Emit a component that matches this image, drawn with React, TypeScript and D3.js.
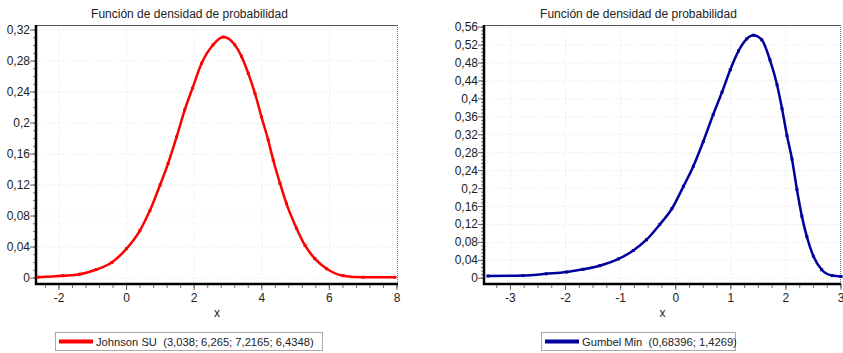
import * as d3 from 'd3';
import { useEffect, useRef } from 'react';

// Johnson SU curve
const johnsonX = [-2.62, -1.88, -1.38, -0.89, -0.44, 0, 0.39, 0.69, 0.99, 1.23, 1.48, 1.72, 1.95, 2.22, 2.56, 2.86, 3.2, 3.4, 3.6, 3.8, 3.99, 4.19, 4.34, 4.54, 4.73, 5.03, 5.28, 5.57, 5.92, 6.41, 7.0, 7.94];
const johnsonY = [0.001, 0.003, 0.005, 0.011, 0.02, 0.038, 0.061, 0.087, 0.12, 0.148, 0.182, 0.217, 0.245, 0.277, 0.301, 0.311, 0.301, 0.286, 0.264, 0.238, 0.208, 0.178, 0.152, 0.122, 0.096, 0.064, 0.042, 0.025, 0.012, 0.003, 0.001, 0.001];

// Gumbel Min curve
const gumbelX = [-3.41, -2.77, -2.35, -1.98, -1.68, -1.38, -1.04, -0.77, -0.53, -0.29, -0.07, 0.14, 0.32, 0.5, 0.68, 0.84, 0.99, 1.14, 1.29, 1.41, 1.56, 1.71, 1.84, 1.93, 2.02, 2.11, 2.2, 2.29, 2.38, 2.5, 2.65, 2.84, 3.0];
const gumbelY = [0.005, 0.006, 0.01, 0.014, 0.02, 0.028, 0.043, 0.062, 0.086, 0.12, 0.155, 0.205, 0.25, 0.305, 0.365, 0.415, 0.465, 0.507, 0.534, 0.542, 0.532, 0.487, 0.431, 0.378, 0.318, 0.266, 0.198, 0.138, 0.093, 0.049, 0.019, 0.006, 0.004];

const leftXTicks = [-2, 0, 2, 4, 6, 8];
const leftYTicks = [0, 0.04, 0.08, 0.12, 0.16, 0.2, 0.24, 0.28, 0.32];
const rightXTicks = [-3, -2, -1, 0, 1, 2, 3];
const rightYTicks = [0, 0.04, 0.08, 0.12, 0.16, 0.2, 0.24, 0.28, 0.32, 0.36, 0.4, 0.44, 0.48, 0.52, 0.56];

const title = 'Función de densidad de probabilidad';
const leftLegend = 'Johnson SU  (3,038; 6,265; 7,2165; 6,4348)';
const rightLegend = 'Gumbel Min  (0,68396; 1,4269)';

const W = 843;
const H = 353;
const FONT = '"Liberation Sans", Arial, sans-serif';

const fmt = (v) => String(+v.toFixed(3)).replace('.', ',');

function drawPanel(svg, cfg) {
  const { left, right, top, bottom, xDomain, yDomain, xTicks, yTicks, xMinor, yMinor, xs, ys, color, legend, legendBox, titleX } = cfg;
  const x = d3.scaleLinear().domain(xDomain).range([left, right]);
  const y = d3.scaleLinear().domain(yDomain).range([bottom, top]);
  const g = svg.append('g');

  // grid
  g.selectAll('.gx').data(xTicks).enter().append('line')
    .attr('x1', d => x(d)).attr('x2', d => x(d)).attr('y1', top).attr('y2', bottom)
    .attr('stroke', '#e4e4e4').attr('stroke-dasharray', '1,2');
  g.selectAll('.gy').data(yTicks).enter().append('line')
    .attr('x1', left).attr('x2', right).attr('y1', d => y(d)).attr('y2', d => y(d))
    .attr('stroke', '#e4e4e4').attr('stroke-dasharray', '1,2');

  // frame: top solid, right dotted
  g.append('line').attr('x1', left).attr('x2', right).attr('y1', top + 0.5).attr('y2', top + 0.5)
    .attr('stroke', '#555');
  g.append('line').attr('x1', right - 0.5).attr('x2', right - 0.5).attr('y1', top).attr('y2', bottom)
    .attr('stroke', '#777').attr('stroke-dasharray', '1,1');

  // minor ticks
  const xm = d3.range(Math.ceil(xDomain[0] / xMinor) * xMinor, xDomain[1] + 1e-9, xMinor);
  g.selectAll('.mx').data(xm).enter().append('line')
    .attr('x1', d => x(d)).attr('x2', d => x(d)).attr('y1', bottom).attr('y2', bottom + 4)
    .attr('stroke', '#777');
  const ym = d3.range(0, yDomain[1] + 1e-9, yMinor);
  g.selectAll('.my').data(ym).enter().append('line')
    .attr('x1', left - 3).attr('x2', left).attr('y1', d => y(d)).attr('y2', d => y(d))
    .attr('stroke', '#777');

  // major ticks
  g.selectAll('.tx').data(xTicks).enter().append('line')
    .attr('x1', d => x(d)).attr('x2', d => x(d)).attr('y1', bottom).attr('y2', bottom + 6)
    .attr('stroke', '#666');
  g.selectAll('.ty').data(yTicks).enter().append('line')
    .attr('x1', left - 6).attr('x2', left).attr('y1', d => y(d)).attr('y2', d => y(d))
    .attr('stroke', '#666');

  // axis lines
  g.append('line').attr('x1', left).attr('x2', left).attr('y1', top).attr('y2', bottom + 1)
    .attr('stroke', '#000').attr('stroke-width', 2.5);
  g.append('line').attr('x1', left - 1).attr('x2', right).attr('y1', bottom).attr('y2', bottom)
    .attr('stroke', '#000').attr('stroke-width', 2.5);

  // tick labels
  g.selectAll('.lx').data(xTicks).enter().append('text')
    .attr('x', d => x(d)).attr('y', bottom + 18)
    .attr('text-anchor', 'middle').attr('font-size', 12).attr('font-family', FONT).attr('fill', '#222')
    .text(d => fmt(d));
  g.selectAll('.ly').data(yTicks).enter().append('text')
    .attr('x', left - 6).attr('y', d => y(d) + 4)
    .attr('text-anchor', 'end').attr('font-size', 12).attr('font-family', FONT).attr('fill', '#222')
    .text(d => fmt(d));

  // titles
  g.append('text').attr('x', titleX).attr('y', 17.5)
    .attr('text-anchor', 'middle').attr('font-size', 12).attr('font-family', FONT).attr('fill', '#222')
    .text(title);
  g.append('text').attr('x', (left + right) / 2).attr('y', 317)
    .attr('text-anchor', 'middle').attr('font-size', 12).attr('font-family', FONT).attr('fill', '#222')
    .text('x');

  // curve
  const pts = xs.map((v, i) => [v, ys[i]]);
  const line = d3.line().x(d => x(d[0])).y(d => y(d[1])).curve(d3.curveMonotoneX);
  g.append('path').datum(pts).attr('d', line)
    .attr('fill', 'none').attr('stroke', color).attr('stroke-width', 2.5);
  g.selectAll('.pt').data(pts).enter().append('rect')
    .attr('x', d => x(d[0]) - 1.5).attr('y', d => y(d[1]) - 1.5)
    .attr('width', 3).attr('height', 3).attr('fill', color);

  // legend
  const [bx0, bx1] = legendBox;
  g.append('rect').attr('x', bx0 + 0.5).attr('y', 332.5).attr('width', bx1 - bx0).attr('height', 18)
    .attr('fill', '#fff').attr('stroke', '#aaa');
  g.append('line').attr('x1', bx0 + 4).attr('x2', bx0 + 38).attr('y1', 341.5).attr('y2', 341.5)
    .attr('stroke', color).attr('stroke-width', 4);
  g.append('text').attr('x', bx0 + 41).attr('y', 346)
    .attr('font-size', 11.2).attr('font-family', FONT).attr('fill', '#222')
    .style('white-space', 'pre')
    .text(legend);
}

export default function App() {
  const ref = useRef(null);

  useEffect(() => {
    document.body.style.margin = '0';
    const svg = d3.select(ref.current);
    svg.selectAll('*').remove();
    svg.append('rect').attr('width', W).attr('height', H).attr('fill', '#fff');

    drawPanel(svg, {
      left: 36, right: 398, top: 25, bottom: 284,
      xDomain: [-2.68, 8.03], yDomain: [-0.0077, 0.3265],
      xTicks: leftXTicks, yTicks: leftYTicks, xMinor: 0.4, yMinor: 0.01,
      xs: johnsonX, ys: johnsonY, color: '#ff0000',
      legend: leftLegend, legendBox: [55, 322], titleX: 189.5
    });
    drawPanel(svg, {
      left: 484, right: 841, top: 25, bottom: 284,
      xDomain: [-3.48, 3.0], yDomain: [-0.0128, 0.5648],
      xTicks: rightXTicks, yTicks: rightYTicks, xMinor: 0.25, yMinor: 0.008,
      xs: gumbelX, ys: gumbelY, color: '#00009c',
      legend: rightLegend, legendBox: [541, 735], titleX: 638.5
    });
  }, []);

  return <svg ref={ref} width={W} height={H} style={{ display: 'block' }}></svg>;
}
